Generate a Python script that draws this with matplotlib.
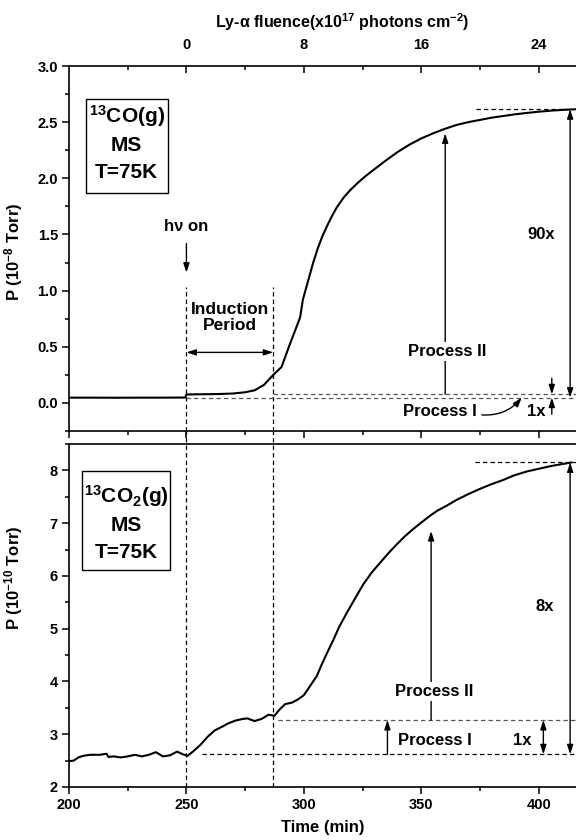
import numpy as np
import matplotlib
matplotlib.use('Agg')
import matplotlib.pyplot as plt
from matplotlib.patches import Rectangle
from matplotlib.ticker import MultipleLocator, FixedLocator, FormatStrFormatter

plt.rcParams['font.family'] = ['Liberation Sans', 'DejaVu Sans']
plt.rcParams['font.weight'] = 'bold'
plt.rcParams['axes.labelweight'] = 'bold'
plt.rcParams['mathtext.fontset'] = 'custom'
plt.rcParams['mathtext.rm'] = 'Liberation Sans:bold'
plt.rcParams['mathtext.it'] = 'Liberation Sans:bold:italic'
plt.rcParams['mathtext.bf'] = 'Liberation Sans:bold'

# 13CO(g) mass-spec signal, 1e-8 Torr
co_time = [200, 210, 220, 230, 240, 249.5, 250, 255, 260, 265, 270, 275, 279,
           283, 287, 290.5, 294, 298.4, 299.6, 302, 304, 306, 308, 310, 312,
           314, 317, 320, 323, 326, 330, 335, 340, 345, 350, 355, 360, 365,
           370, 375, 380, 385, 390, 395, 400, 405, 410, 416]
co_p = [0.047, 0.047, 0.046, 0.047, 0.047, 0.048, 0.075, 0.077, 0.078, 0.080,
        0.084, 0.095, 0.112, 0.16, 0.25, 0.32, 0.52, 0.76, 0.92, 1.10, 1.25,
        1.38, 1.49, 1.58, 1.665, 1.74, 1.83, 1.90, 1.96, 2.015, 2.08, 2.16,
        2.235, 2.30, 2.355, 2.40, 2.44, 2.475, 2.50, 2.52, 2.54, 2.555,
        2.57, 2.582, 2.593, 2.602, 2.609, 2.615]

# 13CO2(g) mass-spec signal, 1e-10 Torr
co2_time = [200, 202, 204, 206, 209, 213, 216, 216.8, 219, 222, 225, 228, 231,
            234, 237, 240, 243, 246, 248.5, 250.5, 253, 256, 259, 262, 265.5,
            268, 271, 274, 276, 279, 282, 285, 287.5, 289.5, 292, 295, 297.5,
            300, 302, 303.5, 305.5, 307.6, 310, 312.6, 315, 318.3, 321, 325.3,
            329, 332.5, 336, 339.6, 343, 346.6, 350, 353.7, 357, 360.8, 365,
            370, 375, 380, 385, 389.2, 395, 400, 405, 410, 414]
co2_p = [2.49, 2.50, 2.56, 2.59, 2.61, 2.61, 2.63, 2.57, 2.58, 2.56, 2.58,
         2.61, 2.58, 2.61, 2.66, 2.58, 2.60, 2.67, 2.62, 2.59, 2.68, 2.80,
         2.95, 3.07, 3.15, 3.21, 3.26, 3.29, 3.30, 3.25, 3.29, 3.37, 3.35,
         3.46, 3.57, 3.60, 3.66, 3.74, 3.87, 3.97, 4.10, 4.32, 4.55, 4.79,
         5.03, 5.30, 5.51, 5.84, 6.07, 6.25, 6.43, 6.60, 6.75, 6.89, 7.01,
         7.14, 7.24, 7.33, 7.44, 7.55, 7.65, 7.74, 7.82, 7.90, 7.98, 8.03,
         8.08, 8.12, 8.15]

# fluence axis ticks (1e17 photons cm^-2)
fluence_major = [0, 8, 16, 24]
fluence_minor = [-4, 4, 12, 20]

T_ON = 250.0          # lamp switched on (min)
T_IND = 287.0         # end of induction period (min)
FLUENCE_PER_MIN = 8.0 / 50.0   # 1e17 photons cm^-2 per minute

# reference levels for the process I / process II markers
co_base, co_step, co_top = 0.047, 0.077, 2.615
co2_base, co2_step, co2_top = 2.62, 3.27, 8.15

XMAX = 415.9
DASH = (0, (3.5, 2.5))
HEAD = '-|>,head_length=0.55,head_width=0.18'
DHEAD = '<|-|>,head_length=0.55,head_width=0.18'


def arrow(ax, x0, y0, x1, y1, style=HEAD, **kw):
    ax.annotate('', xy=(x1, y1), xytext=(x0, y0),
                arrowprops=dict(arrowstyle=style, color='black', lw=1.0,
                                shrinkA=0, shrinkB=0, **kw),
                annotation_clip=False)


def style_axes(ax):
    ax.spines['right'].set_visible(False)
    for s in ax.spines.values():
        s.set_linewidth(1.2)
    ax.set_xlim(200, XMAX)
    ax.xaxis.set_major_locator(MultipleLocator(50))
    ax.xaxis.set_minor_locator(MultipleLocator(25))
    ax.tick_params(which='both', direction='out', width=1.1, labelsize=10.5,
                   pad=3)
    ax.tick_params(which='major', length=5)
    ax.tick_params(which='minor', length=3)
    ax.tick_params(right=False, top=False)


fig = plt.figure(figsize=(5.76, 8.4), dpi=100)
ax1 = fig.add_axes([69 / 576, 1 - 431 / 840, 507 / 576, 365 / 840])
ax2 = fig.add_axes([69 / 576, 1 - 787 / 840, 507 / 576, 343 / 840])

# ---------------- top: 13CO ----------------
style_axes(ax1)
ax1.spines['top'].set_visible(False)
ax1.set_ylim(-0.25, 3.0)
ax1.yaxis.set_major_locator(MultipleLocator(0.5))
ax1.yaxis.set_minor_locator(MultipleLocator(0.25))
ax1.yaxis.set_major_formatter(FormatStrFormatter('%.1f'))
ax1.tick_params(axis='x', labelbottom=False)
ax1.plot(co_time, co_p, color='black', lw=1.5)

sec = ax1.secondary_xaxis('top', functions=(
    lambda t: (t - T_ON) * FLUENCE_PER_MIN,
    lambda f: T_ON + f / FLUENCE_PER_MIN))
sec.xaxis.set_major_locator(FixedLocator(fluence_major))
sec.xaxis.set_minor_locator(FixedLocator(fluence_minor))
sec.spines['top'].set_linewidth(1.2)
sec.tick_params(which='both', direction='in', width=1.1, labelsize=10.5,
                pad=10)
sec.tick_params(which='major', length=5)
sec.tick_params(which='minor', length=3)
fig.text(342 / 576, 1 - 22 / 840,
         'Ly-\u03b1 fluence(x10$^{17}$ photons cm$^{-2}$)',
         ha='center', va='center', fontsize=11.5, fontweight='bold')

ax1.set_ylabel('P (10$^{-8}$ Torr)', fontsize=12)
ax1.yaxis.set_label_coords(-0.087, 0.49)

# dashed guides
ax1.plot([T_ON, T_ON], [-0.25, 1.03], color='black', lw=0.9, ls=DASH)
ax1.plot([T_IND, T_IND], [-0.25, 1.03], color='black', lw=0.9, ls=DASH)
ax1.plot([T_ON, XMAX], [co_base, co_base], color='#555555', lw=0.9, ls=DASH)
ax1.plot([T_IND, XMAX], [co_step, co_step], color='#555555', lw=0.9, ls=DASH)
ax1.plot([373.5, XMAX], [co_top, co_top], color='black', lw=0.9, ls=DASH)

# sample box
ax1.add_patch(Rectangle((0.0335, 0.652), 0.162, 0.258, transform=ax1.transAxes,
                        fill=False, lw=1.0, ec='black'))
ax1.text(0.114, 0.864, '$^{13}$CO(g)', transform=ax1.transAxes, ha='center',
         va='center', fontsize=15)
ax1.text(0.114, 0.782, 'MS', transform=ax1.transAxes, ha='center',
         va='center', fontsize=15)
ax1.text(0.114, 0.707, 'T=75K', transform=ax1.transAxes, ha='center',
         va='center', fontsize=15)

ax1.text(T_ON, 1.57, 'h\u03bd on', ha='center', va='center', fontsize=12)
arrow(ax1, T_ON, 1.42, T_ON, 1.16)
ax1.text(268.5, 0.76, 'Induction\nPeriod', ha='center', va='center',
         fontsize=12.5, linespacing=1.15)
arrow(ax1, T_ON, 0.45, T_IND, 0.45, style=DHEAD)

arrow(ax1, 360.2, co_step, 360.2, 2.40)
ax1.text(361, 0.46, 'Process II', ha='center', va='center', fontsize=12,
         bbox=dict(fc='white', ec='none', pad=1.5))
ax1.text(358, -0.077, 'Process I', ha='center', va='center', fontsize=12)
arrow(ax1, 375.8, -0.107, 392.8, co_base, connectionstyle='arc3,rad=0.25')
ax1.text(399, -0.077, '1x', ha='center', va='center', fontsize=12)
arrow(ax1, 405.6, 0.22, 405.6, co_step)
arrow(ax1, 405.6, -0.10, 405.6, co_base)
arrow(ax1, 413.4, co_base, 413.4, co_top, style=DHEAD)
ax1.text(401, 1.5, '90x', ha='center', va='center', fontsize=12)

# ---------------- bottom: 13CO2 ----------------
style_axes(ax2)
ax2.set_ylim(2, 8.5)
ax2.yaxis.set_major_locator(MultipleLocator(1))
ax2.yaxis.set_minor_locator(MultipleLocator(0.5))
ax2.plot(co2_time, co2_p, color='black', lw=1.5)
ax2.set_xlabel('Time (min)', fontsize=12, labelpad=6)
ax2.set_ylabel('P (10$^{-10}$ Torr)', fontsize=12)
ax2.yaxis.set_label_coords(-0.087, 0.61)

ax2.plot([T_ON, T_ON], [2, 8.75], color='black', lw=0.9, ls=DASH,
         clip_on=False)
ax2.plot([T_IND, T_IND], [2, 8.75], color='black', lw=0.9, ls=DASH,
         clip_on=False)
ax2.plot([256.5, XMAX], [co2_base, co2_base], color='black', lw=0.9, ls=DASH)
ax2.plot([289, XMAX], [co2_step, co2_step], color='#555555', lw=0.9, ls=DASH)
ax2.plot([373, XMAX], [co2_top, co2_top], color='black', lw=0.9, ls=DASH)

ax2.add_patch(Rectangle((0.026, 0.633), 0.174, 0.289, transform=ax2.transAxes,
                        fill=False, lw=1.0, ec='black'))
ax2.text(0.113, 0.848, '$^{13}$CO$_2$(g)', transform=ax2.transAxes,
         ha='center', va='center', fontsize=15)
ax2.text(0.113, 0.762, 'MS', transform=ax2.transAxes, ha='center',
         va='center', fontsize=15)
ax2.text(0.113, 0.683, 'T=75K', transform=ax2.transAxes, ha='center',
         va='center', fontsize=15)

arrow(ax2, 335.6, co2_base, 335.6, co2_step)
ax2.text(355.9, 2.89, 'Process I', ha='center', va='center', fontsize=12)
arrow(ax2, 354.2, co2_step, 354.2, 6.85)
ax2.text(355.3, 3.81, 'Process II', ha='center', va='center', fontsize=12,
         bbox=dict(fc='white', ec='none', pad=1.5))
ax2.text(392.8, 2.89, '1x', ha='center', va='center', fontsize=12)
arrow(ax2, 402, co2_base, 402, co2_step, style=DHEAD)
arrow(ax2, 413.4, co2_base, 413.4, co2_top, style=DHEAD)
ax2.text(402.7, 5.43, '8x', ha='center', va='center', fontsize=12)

fig.savefig('out.png', dpi=100)
